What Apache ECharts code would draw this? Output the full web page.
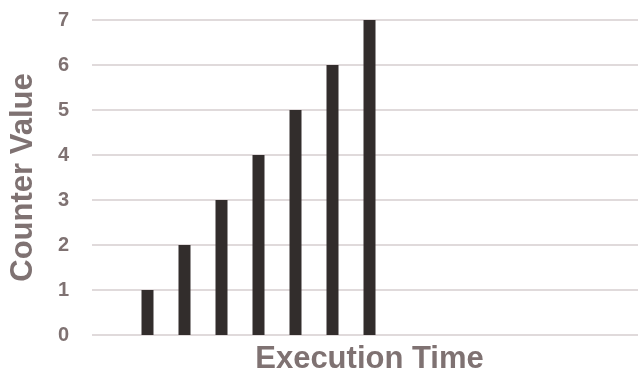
<!DOCTYPE html>
<html>
<head>
<meta charset="utf-8">
<script src="https://cdn.jsdelivr.net/npm/echarts@6/dist/echarts.min.js"></script>
<style>
  html, body { margin: 0; padding: 0; background: #ffffff; }
  #chart { width: 638px; height: 373px; }
</style>
</head>
<body>
<div id="chart"></div>
<script>
// Time steps along the x axis (unlabelled) and the counter reading at each step
const timeSteps = ['t0', 't1', 't2', 't3', 't4', 't5', 't6', 't7', 't8', 't9', 't10', 't11', 't12', 't13', 't14'];
const counterValues = [null, 1, 2, 3, 4, 5, 6, 7, null, null, null, null, null, null, null];
const yTicks = [0, 1, 2, 3, 4, 5, 6, 7];

const textColor = '#7f7272';
const gridColor = '#e0dadb';
const barColor = '#322d2c';
const font = 'Liberation Sans, Arial, sans-serif';

const chart = echarts.init(document.getElementById('chart'), null, { renderer: 'canvas' });

chart.setOption({
  animation: false,
  grid: { left: 92, top: 20, width: 555, height: 315, containLabel: false, outerBoundsMode: 'none' },
  xAxis: {
    type: 'category',
    data: timeSteps,
    name: 'Execution Time',
    nameLocation: 'middle',
    nameGap: 9,
    nameTextStyle: { color: textColor, fontFamily: font, fontWeight: 'bold', fontSize: 31 },
    axisLine: { show: false },
    axisTick: { show: false },
    axisLabel: { show: false },
    splitLine: { show: false }
  },
  yAxis: {
    type: 'value',
    min: yTicks[0],
    max: yTicks[yTicks.length - 1],
    interval: 1,
    name: 'Counter Value',
    nameLocation: 'middle',
    nameGap: 53,
    nameRotate: 90,
    nameTextStyle: { color: textColor, fontFamily: font, fontWeight: 'bold', fontSize: 31 },
    axisLine: { show: false },
    axisTick: { show: false },
    axisLabel: {
      color: textColor,
      fontFamily: font,
      fontWeight: 'bold',
      fontSize: 20,
      margin: 23
    },
    splitLine: { show: true, lineStyle: { color: gridColor, width: 2 } }
  },
  series: [{
    type: 'bar',
    data: counterValues,
    barWidth: 12,
    itemStyle: { color: barColor }
  }]
});
</script>
</body>
</html>
